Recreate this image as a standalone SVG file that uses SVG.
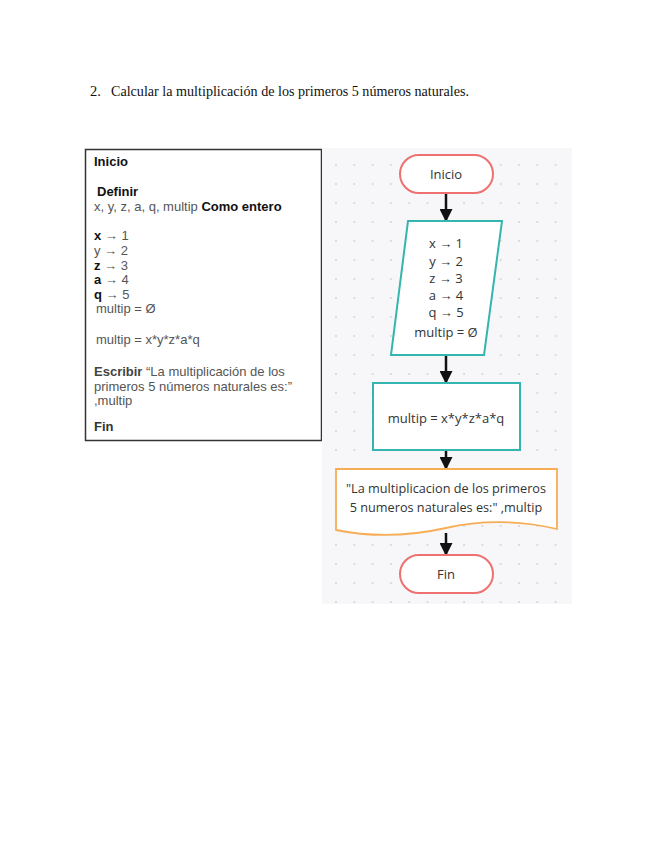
<svg xmlns="http://www.w3.org/2000/svg" width="655" height="848" viewBox="0 0 655 848">
<style>
.title{font-family:"Liberation Serif",serif;font-size:14.5px;fill:#111}
.pc{font-family:"Liberation Sans",Arial,sans-serif;font-size:13px;fill:#555}
.b{font-weight:bold;fill:#111}
.fc{font-family:"Open Sans","Liberation Sans",sans-serif;font-size:13px;fill:#333;text-anchor:middle}
.term{fill:#fff;stroke:#ee7070;stroke-width:2}
.teal{fill:#fff;stroke:#35b5b0;stroke-width:2}
.doc{fill:#fff;stroke:#f7ad55;stroke-width:1.8}
.conn{stroke:#111;stroke-width:2.5;fill:none}
</style>
<defs>
<pattern id="dots" x="336" y="165" width="18.3" height="19" patternUnits="userSpaceOnUse">
<rect x="-1" y="-1" width="2" height="2" fill="#dcdce0"/>
<rect x="17.3" y="-1" width="2" height="2" fill="#dcdce0"/>
<rect x="-1" y="18" width="2" height="2" fill="#dcdce0"/>
<rect x="17.3" y="18" width="2" height="2" fill="#dcdce0"/>
</pattern>
<marker id="ah" markerWidth="13" markerHeight="13" refX="13" refY="6.5" viewBox="0 0 13 13" markerUnits="userSpaceOnUse" orient="auto">
<path d="M0,0 L13,6.5 L0,13 Z" fill="#111"/>
</marker>
</defs>
<rect width="655" height="848" fill="#fff"/>
<g id="title">
<text class="title" x="90" y="96">2.</text>
<text class="title" x="111" y="96" textLength="358" lengthAdjust="spacingAndGlyphs">Calcular la multiplicación de los primeros 5 números naturales.</text>
</g>
<g id="pseudocode">
<rect x="85.5" y="149.5" width="236" height="291" fill="#fff" stroke="#333" stroke-width="1.5"/>
<text class="pc b" x="94" y="166">Inicio</text>
<text class="pc b" x="97" y="196">Definir</text>
<text class="pc" x="94" y="211">x, y, z, a, q, multip <tspan class="b">Como entero</tspan></text>
<text class="pc" x="94" y="240"><tspan class="b">x</tspan> → 1</text>
<text class="pc" x="94" y="255">y → 2</text>
<text class="pc" x="94" y="270"><tspan class="b">z</tspan> → 3</text>
<text class="pc" x="94" y="284"><tspan class="b">a</tspan> → 4</text>
<text class="pc" x="94" y="299"><tspan class="b">q</tspan> → 5</text>
<text class="pc" x="96" y="313">multip = Ø</text>
<text class="pc" x="96" y="344">multip = x*y*z*a*q</text>
<text class="pc" x="94" y="376"><tspan class="b" style="fill:#444">Escribir</tspan> “La multiplicación de los</text>
<text class="pc" x="94" y="391">primeros 5 números naturales es:”</text>
<text class="pc" x="94" y="405">,multip</text>
<text class="pc b" x="94" y="431" style="fill:#333">Fin</text>
</g>
<g id="canvas">
<rect x="322" y="148" width="250" height="456" fill="#f7f7f9"/>
<rect x="322" y="148" width="250" height="456" fill="url(#dots)"/>
</g>
<g id="connectors">
<line class="conn" x1="446" y1="193" x2="446" y2="222" marker-end="url(#ah)"/>
<line class="conn" x1="446" y1="355" x2="446" y2="384" marker-end="url(#ah)"/>
<line class="conn" x1="446" y1="450" x2="446" y2="470" marker-end="url(#ah)"/>
<line class="conn" x1="446" y1="533" x2="446" y2="556" marker-end="url(#ah)"/>
</g>
<g id="inicio">
<rect class="term" x="400" y="155" width="93" height="38" rx="19"/>
<text class="fc" x="446" y="179">Inicio</text>
</g>
<g id="asignaciones">
<polygon class="teal" points="408,221 502,221 484,355 391,355"/>
<text class="fc" x="446" y="248">x → 1</text>
<text class="fc" x="446" y="266">y → 2</text>
<text class="fc" x="446" y="283">z → 3</text>
<text class="fc" x="446" y="300">a → 4</text>
<text class="fc" x="446" y="317">q → 5</text>
<text class="fc" x="446" y="337">multip = Ø</text>
</g>
<g id="proceso">
<rect class="teal" x="373" y="383" width="147" height="67"/>
<text class="fc" x="446" y="423">multip = x*y*z*a*q</text>
</g>
<g id="salida">
<path class="doc" d="M336,469 H557 V529 C520,520 480,520 446,528 C410,536 375,538 336,530 Z"/>
<text class="fc" x="446" y="493" style="font-size:12.7px">"La multiplicacion de los primeros</text>
<text class="fc" x="446" y="512" style="font-size:12.7px">5 numeros naturales es:" ,multip</text>
</g>
<g id="fin">
<rect class="term" x="400" y="555" width="93" height="38" rx="19"/>
<text class="fc" x="446" y="579">Fin</text>
</g>
</svg>
